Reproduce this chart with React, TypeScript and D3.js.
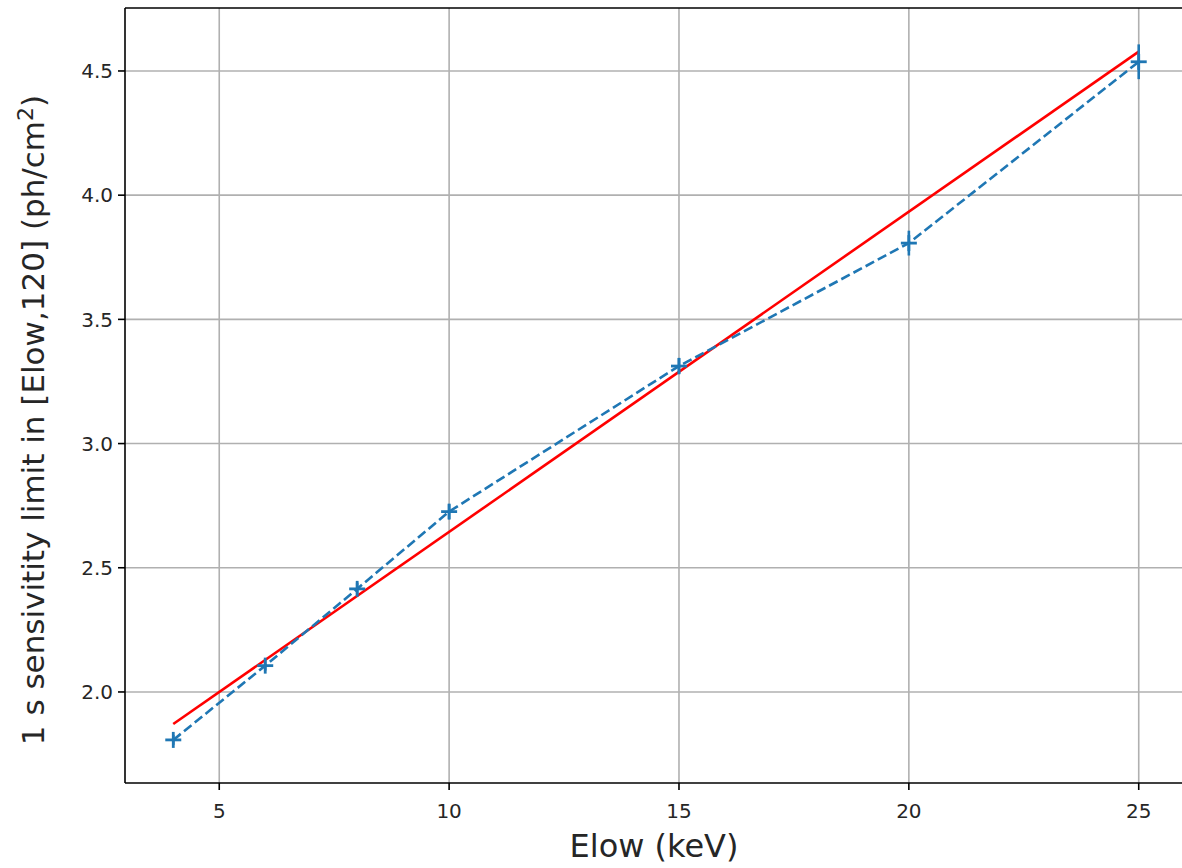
import React from "react";
import * as d3 from "d3";

const elow = [4, 6, 8, 10, 15, 20, 25];
const sensitivity = [1.807, 2.106, 2.415, 2.726, 3.312, 3.807, 4.537];
const errors = [0.02, 0.02, 0.025, 0.03, 0.033, 0.05, 0.07];
const fitX = [4, 25];
const fitY = [1.871, 4.578];
const xTicks = [5, 10, 15, 20, 25];
const yTicks = [2.0, 2.5, 3.0, 3.5, 4.0, 4.5];

const W = 1182;
const H = 868;
const left = 125;
const right = 1187;
const top = 8;
const bottom = 783;

export default function App() {
  const x = d3.scaleLinear().domain([2.95, 26.05]).range([left, right]);
  const y = d3.scaleLinear().domain([1.6335, 4.7535]).range([bottom, top]);
  const dataLine = d3
    .line<number>()
    .x((_, i) => x(elow[i]))
    .y((d) => y(d));
  const fitLine = d3
    .line<number>()
    .x((_, i) => x(fitX[i]))
    .y((d) => y(d));
  const font = "DejaVu Sans, sans-serif";
  const blue = "#1f77b4";
  return (
    <svg
      width={W}
      height={H}
      style={{ position: "absolute", left: 0, top: 0, background: "#fff" }}
    >
      <defs>
        <clipPath id="plot">
          <rect x={left} y={top} width={right - left} height={bottom - top} />
        </clipPath>
      </defs>
      <rect x={0} y={0} width={W} height={H} fill="#fff" />
      {xTicks.map((t) => (
        <line key={"gx" + t} x1={x(t)} x2={x(t)} y1={top} y2={bottom} stroke="#b0b0b0" strokeWidth={1.6} />
      ))}
      {yTicks.map((t) => (
        <line key={"gy" + t} x1={left} x2={right} y1={y(t)} y2={y(t)} stroke="#b0b0b0" strokeWidth={1.6} />
      ))}
      <g clipPath="url(#plot)">
        <path d={fitLine(fitY) || ""} fill="none" stroke="#ff0000" strokeWidth={2.6} />
        <path
          d={dataLine(sensitivity) || ""}
          fill="none"
          stroke={blue}
          strokeWidth={2.6}
          strokeDasharray="9.6,4.2"
        />
        {elow.map((e, i) => (
          <g key={"p" + e}>
            <line
              x1={x(e)}
              x2={x(e)}
              y1={y(sensitivity[i] + errors[i])}
              y2={y(sensitivity[i] - errors[i])}
              stroke={blue}
              strokeWidth={2.6}
            />
            <line x1={x(e) - 8} x2={x(e) + 8} y1={y(sensitivity[i])} y2={y(sensitivity[i])} stroke={blue} strokeWidth={2.8} />
            <line x1={x(e)} x2={x(e)} y1={y(sensitivity[i]) - 8} y2={y(sensitivity[i]) + 8} stroke={blue} strokeWidth={2.8} />
          </g>
        ))}
      </g>
      <line x1={left} x2={left} y1={top} y2={bottom} stroke="#000" strokeWidth={1.6} />
      <line x1={left} x2={right} y1={bottom} y2={bottom} stroke="#000" strokeWidth={1.6} />
      <line x1={left} x2={right} y1={top} y2={top} stroke="#000" strokeWidth={1.6} />
      <line x1={right} x2={right} y1={top} y2={bottom} stroke="#000" strokeWidth={1.6} />
      {xTicks.map((t) => (
        <g key={"tx" + t}>
          <line x1={x(t)} x2={x(t)} y1={bottom} y2={bottom + 7} stroke="#000" strokeWidth={1.6} />
          <text x={x(t)} y={bottom + 35} textAnchor="middle" fontFamily={font} fontSize={20} fill="#262626">
            {t}
          </text>
        </g>
      ))}
      {yTicks.map((t) => (
        <g key={"ty" + t}>
          <line x1={left - 7} x2={left} y1={y(t)} y2={y(t)} stroke="#000" strokeWidth={1.6} />
          <text x={left - 12} y={y(t)} dy="0.36em" textAnchor="end" fontFamily={font} fontSize={20} fill="#262626">
            {t.toFixed(1)}
          </text>
        </g>
      ))}
      <text x={(left + right) / 2 - 2} y={857} textAnchor="middle" fontFamily={font} fontSize={32} fill="#262626">
        Elow (keV)
      </text>
      <text
        transform={`translate(44, 420) rotate(-90)`}
        textAnchor="middle"
        fontFamily={font}
        fontSize={31}
        fill="#262626"
      >
        1 s sensivitity limit in [Elow,120] (ph/cm
        <tspan dy="-11" fontSize={22}>2</tspan>
        <tspan dy="11">)</tspan>
      </text>
    </svg>
  );
}
